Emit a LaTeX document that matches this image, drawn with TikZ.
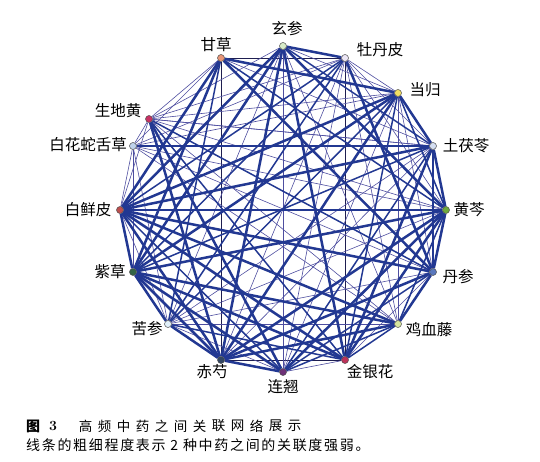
\documentclass[tikz,border=0pt]{standalone}
\usepackage{fontspec}
\newfontfamily\cjk{Noto Sans CJK SC}
\newfontfamily\cjkwide[LetterSpace=12]{Noto Sans CJK SC}
\usetikzlibrary{backgrounds}
\definecolor{edgeblue}{RGB}{34,56,146}
\definecolor{edgeviolet}{RGB}{78,78,160}
\definecolor{edgedark}{RGB}{30,30,80}
\definecolor{cGC}{RGB}{232,150,120}
\definecolor{cXS}{RGB}{215,235,200}
\definecolor{cMDP}{RGB}{236,230,245}
\definecolor{cDG}{RGB}{242,222,100}
\definecolor{cSDH}{RGB}{200,50,100}
\definecolor{cBHS}{RGB}{190,210,235}
\definecolor{cTFL}{RGB}{212,222,242}
\definecolor{cBXP}{RGB}{190,80,80}
\definecolor{cHQ}{RGB}{110,170,60}
\definecolor{cZC}{RGB}{50,100,70}
\definecolor{cDS}{RGB}{90,120,190}
\definecolor{cKS}{RGB}{225,240,250}
\definecolor{cJXT}{RGB}{215,230,160}
\definecolor{cCS}{RGB}{50,70,100}
\definecolor{cLQ}{RGB}{110,50,120}
\definecolor{cJYH}{RGB}{190,50,90}

\begin{document}
\begin{tikzpicture}[x=1pt, y=-1pt,
  herb/.style={circle, draw=black!70, line width=0.5pt, inner sep=0pt, minimum size=7pt},
  herblabel/.style={font=\cjk\fontsize{15.5}{18}\selectfont, inner sep=0pt},
  strongedge/.style={edgeblue, line width=2.5pt},
  mediumedge/.style={edgeblue, line width=1.5pt},
  weakedge/.style={edgeviolet, line width=0.6pt},
  frameedge/.style={edgedark, line width=0.7pt}]
\useasboundingbox (0,0) rectangle (540,462);
% herbs on the ring
\node[herb, fill=cXS]  (xs)  at (283,46)  {};
\node[herb, fill=cMDP] (mdp) at (345,58)  {};
\node[herb, fill=cDG]  (dg)  at (398,93)  {};
\node[herb, fill=cTFL] (tfl) at (433,146) {};
\node[herb, fill=cHQ]  (hq)  at (446,210) {};
\node[herb, fill=cDS]  (ds)  at (433,272) {};
\node[herb, fill=cJXT] (jxt) at (398,324) {};
\node[herb, fill=cJYH] (jyh) at (345,360) {};
\node[herb, fill=cLQ]  (lq)  at (283,372) {};
\node[herb, fill=cCS]  (cs)  at (221,360) {};
\node[herb, fill=cKS]  (ks)  at (168,324) {};
\node[herb, fill=cZC]  (zc)  at (133,272) {};
\node[herb, fill=cBXP] (bxp) at (120,210) {};
\node[herb, fill=cBHS] (bhs) at (133,146) {};
\node[herb, fill=cSDH] (sdh) at (149,119) {};
\node[herb, fill=cGC]  (gc)  at (221,58)  {};
% labels
\node[herblabel] (xs-lab)  at (287,29)  {玄参};
\node[herblabel] (mdp-lab) at (380,50)  {牡丹皮};
\node[herblabel] (dg-lab)  at (425,90)  {当归};
\node[herblabel] (tfl-lab) at (466,146) {土茯苓};
\node[herblabel] (hq-lab)  at (469,210) {黄芩};
\node[herblabel] (ds-lab)  at (458,277) {丹参};
\node[herblabel] (jxt-lab) at (429,330) {鸡血藤};
\node[herblabel] (jyh-lab) at (370,372) {金银花};
\node[herblabel] (lq-lab)  at (283,387) {连翘};
\node[herblabel] (cs-lab)  at (212,372) {赤芍};
\node[herblabel] (ks-lab)  at (147,329) {苦参};
\node[herblabel] (zc-lab)  at (110,272) {紫草};
\node[herblabel] (bxp-lab) at (88,210)  {白鲜皮};
\node[herblabel] (bhs-lab) at (88,145)  {白花蛇舌草};
\node[herblabel] (sdh-lab) at (118,111) {生地黄};
\node[herblabel] (gc-lab)  at (216,45)  {甘草};
% association network
\begin{scope}[on background layer]
\foreach \a/\b in {gc/mdp, gc/cs, mdp/jyh, cs/jyh}
  \draw[frameedge] (\a) -- (\b);
\foreach \a/\b in {gc/sdh, gc/bhs, gc/tfl, sdh/mdp, sdh/dg, sdh/tfl, sdh/hq, sdh/xs,
  sdh/jxt, sdh/bxp, sdh/bhs, bhs/bxp, bhs/zc, bhs/dg, bhs/hq, bhs/ds, bhs/ks, bhs/jxt,
  mdp/dg, mdp/tfl, mdp/hq, mdp/bhs, mdp/cs, mdp/lq, tfl/ks, tfl/cs, ks/hq, ks/ds,
  ks/jxt, ks/xs, lq/ks, lq/xs, lq/dg, lq/jyh, bxp/ks, dg/ds, dg/jxt, jxt/xs, jxt/mdp,
  jyh/ds, xs/dg, tfl/sdh}
  \draw[weakedge] (\a) -- (\b);
\foreach \a/\b in {bxp/lq, bxp/mdp, gc/ks, gc/hq, dg/hq, jxt/jyh, lq/ds, lq/jxt,
  lq/tfl, ks/dg, mdp/zc, xs/tfl, sdh/jyh, tfl/ds, dg/jyh, mdp/ks, ks/jyh, zc/tfl,
  sdh/ds, hq/jxt}
  \draw[mediumedge] (\a) -- (\b);
\foreach \a/\b in {bhs/tfl, bxp/hq, xs/mdp, gc/dg, dg/tfl, tfl/hq, hq/ds, bxp/zc,
  zc/ks, ks/cs, cs/lq, bxp/ds, bxp/jxt, bxp/jyh, bxp/cs, bxp/dg, bxp/xs, bxp/gc,
  bxp/tfl, zc/hq, zc/jxt, zc/jyh, zc/cs, zc/dg, xs/cs, xs/hq, xs/jyh, gc/zc, gc/ds,
  mdp/ds, cs/jxt, cs/ds, cs/hq, jyh/tfl, jyh/hq, sdh/lq, sdh/cs, ds/jxt, lq/hq,
  dg/cs, lq/zc, xs/zc}
  \draw[strongedge] (\a) -- (\b);
\end{scope}
% caption
\node[font=\cjk\bfseries\fontsize{14}{16}\selectfont, inner sep=0pt] (fig-tag) at (33,426) {图};
\node[font=\bfseries\fontsize{14}{16}\selectfont, inner sep=0pt] (fig-num) at (53,426) {3};
\foreach \c [count=\i from 0] in {高,频,中,药,之,间,关,联,网,络,展,示}
  \node[font=\cjk\fontsize{13.5}{16}\selectfont, inner sep=0pt] (title-\i) at (85.5+19*\i,426) {\c};
\node[font=\cjkwide\fontsize{14}{16}\selectfont, inner sep=0pt, anchor=west] (note) at (26,445)
  {线条的粗细程度表示 2 种中药之间的关联度强弱。};
\end{tikzpicture}
\end{document}
